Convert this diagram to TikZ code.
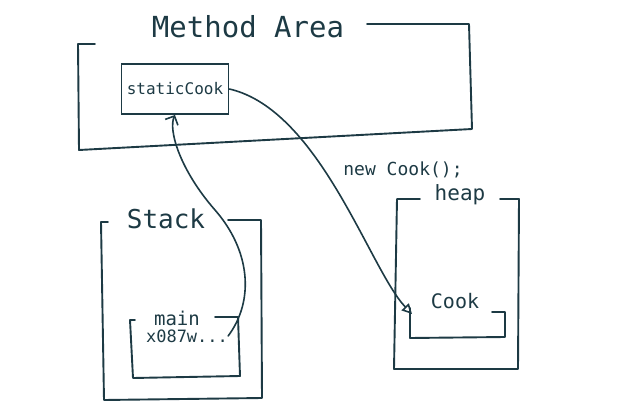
\documentclass[tikz,border=0pt]{standalone}
\usepackage{fontspec}
\newfontfamily\hand{DejaVu Sans Mono}
\usetikzlibrary{arrows.meta,positioning}
\definecolor{ink}{HTML}{1D3A44}

\begin{document}
\begin{tikzpicture}[
  x=1pt, y=-1pt,
  frame/.style={draw=ink, line width=1.9pt, line join=round, line cap=round},
  lbl/.style={text=ink, inner sep=0pt, font=\hand\fontsize{#1}{#1}\selectfont},
  slot/.style={draw=ink, line width=1.9pt, minimum width=107pt, minimum height=50pt, inner sep=2pt, text=ink, font=\hand\fontsize{16}{16}\selectfont},
  ptr/.style={draw=ink, line width=1.6pt, line cap=round}
]
  \useasboundingbox (0,0) rectangle (627,418);

  % method area
  \node[lbl=29] (ma) at (248,27) {Method Area};
  \draw[frame] (95,44) -- (78,44) -- (79,150) -- (472,129) -- (469,24) -- (367,24);
  \node[slot] (sc) at (175,89) {staticCook};

  % stack
  \node[lbl=26] (st) at (166,219) {Stack};
  \draw[frame] (108,222) -- (101,222) -- (104,400) -- (262,398) -- (261,220) -- (228,220);
  \node[lbl=19] (mn) at (177,318) {main};
  \node[lbl=17] (ad) at (187,336) {x087w...};
  \draw[frame] (135,320) -- (130,320) -- (133,378) -- (240,376) -- (238,317) -- (215,317);

  % heap
  \node[lbl=21] (hp) at (460,195) {heap};
  \draw[frame] (420,199) -- (397,199) -- (394,369) -- (518,369) -- (519,199) -- (500,199);
  \node[lbl=20] (ck) at (455,301) {Cook};
  \draw[frame] (410,308) -- (410,338) -- (505,337) -- (505,312) -- (492,312);
  \coordinate (ckin) at (412,314);

  \node[lbl=18] (nw) at (403,170) {new Cook();};

  \draw[ptr, -{Triangle[open, length=10pt, width=10pt]}] (sc.east) .. controls (320,110) and (370,270) .. (ckin);
  \draw[ptr, -{Straight Barb[length=7pt, width=14pt]}] (ad.east) .. controls (255,300) and (250,250) .. (215,210)
    .. controls (180,170) and (168,130) .. (sc.south);
\end{tikzpicture}
\end{document}
